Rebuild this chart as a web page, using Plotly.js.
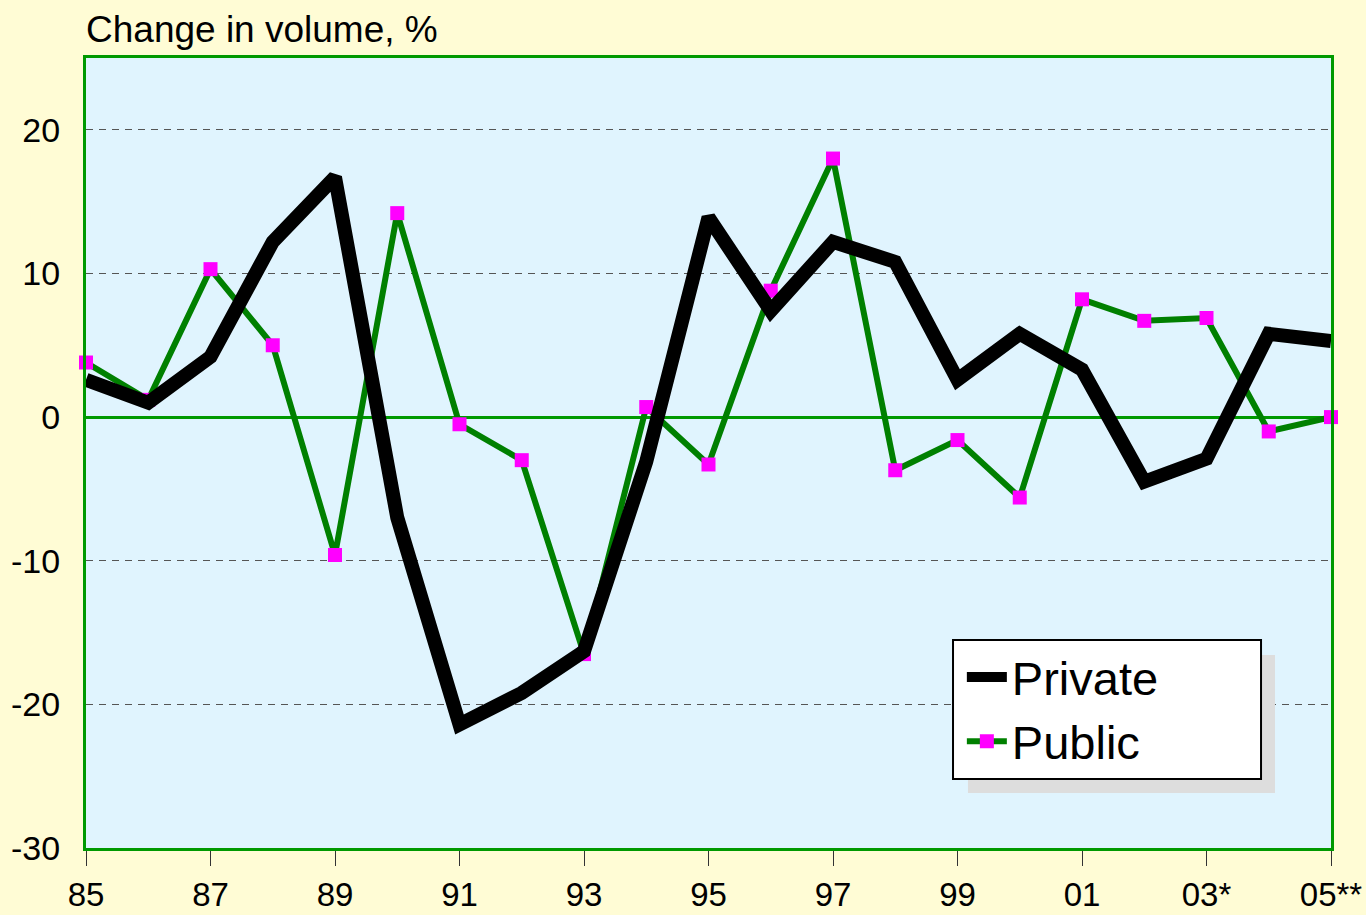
<!DOCTYPE html>
<html>
<head>
<meta charset="utf-8">
<script src="https://cdn.plot.ly/plotly-3.0.1.min.js"></script>
<style>
  html, body { margin: 0; padding: 0; background: #FFFCD5; }
  #chart { width: 1366px; height: 915px; }
</style>
</head>
<body>
<div id="chart"></div>
<script>
// Years (x positions) and the tick labels
const years = [1985,1986,1987,1988,1989,1990,1991,1992,1993,1994,1995,1996,1997,1998,1999,2000,2001,2002,2003,2004,2005];
const tickYears = [1985,1987,1989,1991,1993,1995,1997,1999,2001,2003,2005];
const tickLabels = ["85","87","89","91","93","95","97","99","01","03*","05**"];
const yTicks = [-30,-20,-10,0,10,20];
const yTickLabels = ["-30","-20","-10","0","10","20"];

// Change in volume, %
const privateVals = [2.6,1.0,4.2,12.2,16.7,-7.0,-21.4,-19.2,-16.3,-3.1,13.9,7.4,12.2,10.8,2.6,5.8,3.3,-4.5,-2.9,5.8,5.3];
const publicVals  = [3.8,1.2,10.3,5.0,-9.6,14.2,-0.5,-3.0,-16.5,0.7,-3.3,8.8,18.0,-3.7,-1.6,-5.6,8.2,6.7,6.9,-1.0,0.0];

const FONT = "Liberation Sans, Arial, sans-serif";

const traces = [
  {
    x: years, y: publicVals, name: "Public", type: "scatter", mode: "lines+markers",
    line: { color: "#008000", width: 6 },
    marker: { symbol: "square", size: 14, color: "#FF00FF", line: { width: 0 } },
    cliponaxis: false
  },
  {
    x: years, y: privateVals, name: "Private", type: "scatter", mode: "lines",
    line: { color: "#000000", width: 14, shape: "linear" },
    cliponaxis: false
  }
];

const layout = {
  width: 1366, height: 915,
  margin: { l: 86, r: 35, t: 58, b: 67 },
  paper_bgcolor: "#FFFCD5",
  plot_bgcolor: "#E0F4FE",
  font: { family: FONT, color: "#000000", size: 34 },
  title: {
    text: "Change in volume, %",
    font: { family: FONT, size: 37, color: "#000000" },
    xref: "container", yref: "container",
    x: 86/1366, xanchor: "left",
    y: 1 - 29/915, yanchor: "middle"
  },
  showlegend: true,
  legend: {
    x: 0.7035, y: 0.2633, xanchor: "left", yanchor: "top",
    bgcolor: "rgba(0,0,0,0)", borderwidth: 0,
    traceorder: "reversed",
    font: { family: FONT, size: 47, color: "#000000" },
    itemwidth: 40
  },
  xaxis: {
    range: [1985, 2005],
    tickmode: "array", tickvals: tickYears, ticktext: tickLabels,
    ticks: "outside", ticklen: 15, tickwidth: 1, tickcolor: "#333333",
    showgrid: false, zeroline: false,
    showline: true, linecolor: "#009900", linewidth: 3, mirror: true,
    tickfont: { family: FONT, size: 33, color: "#000000" },
    ticklabelstandoff: 0
  },
  yaxis: {
    range: [-30, 25],
    tickmode: "array", tickvals: yTicks, ticktext: yTickLabels,
    ticks: "", showgrid: true, gridcolor: "#555555", gridwidth: 1, griddash: "7px,6px",
    zeroline: true, zerolinecolor: "#009900", zerolinewidth: 3,
    showline: true, linecolor: "#009900", linewidth: 3, mirror: true,
    tickfont: { family: FONT, size: 34, color: "#000000" },
    ticklabelstandoff: 16
  },
  shapes: [
    {
      type: "rect", xref: "paper", yref: "paper", layer: "above",
      x0: 0.7084, x1: 0.955, y0: 0.0696, y1: 0.2443,
      fillcolor: "#DDDDDD", line: { width: 0 }
    },
    {
      type: "rect", xref: "paper", yref: "paper", layer: "above",
      x0: 0.6964, x1: 0.9438, y0: 0.0873, y1: 0.2633,
      fillcolor: "#FFFFFF", line: { color: "#000000", width: 2 }
    }
  ]
};

Plotly.newPlot("chart", traces, layout, { displayModeBar: false, staticPlot: true });
</script>
</body>
</html>
